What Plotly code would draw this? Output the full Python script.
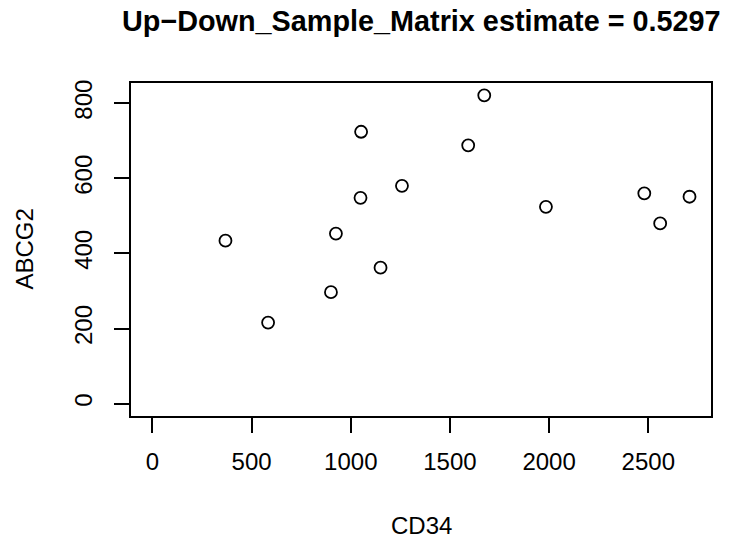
import plotly.graph_objects as go

# Data
cd34 = [368, 583, 900, 925, 1052, 1049, 1150, 1258, 1592, 1673, 1984, 2480, 2560, 2708]
abcg2 = [434, 216, 297, 453, 724, 548, 362, 580, 688, 821, 524, 560, 480, 551]
x_ticks = [0, 500, 1000, 1500, 2000, 2500]
y_ticks = [0, 200, 400, 600, 800]
title_text = "Up\u2212Down_Sample_Matrix estimate = 0.5297"
x_title = "CD34"
y_title = "ABCG2"

W, H = 734, 542
ML, MR, MT, MB = 131, 23, 83, 126
PW, PH = W - ML - MR, H - MT - MB

def r_range(lo, hi):
    d = (hi - lo) * 0.04
    return [lo - d, hi + d]

xr = r_range(0, max(cd34))
yr = r_range(0, max(abcg2))

FONT = "Liberation Sans, Arial, Helvetica, sans-serif"

fig = go.Figure()
fig.add_trace(go.Scatter(
    x=cd34, y=abcg2, mode="markers",
    marker=dict(symbol="circle-open", size=12, color="black", line=dict(width=1.8, color="black")),
    showlegend=False, hoverinfo="skip",
))

axis_common = dict(
    showgrid=False, zeroline=False, showline=True, linecolor="black", linewidth=1.5,
    mirror=True, ticks="outside", ticklen=15, tickwidth=1.5, tickcolor="black",
    tickfont=dict(family=FONT, size=24, color="black"),
)

fig.update_layout(
    width=W, height=H,
    margin=dict(l=ML, r=MR, t=MT, b=MB, pad=0),
    paper_bgcolor="white", plot_bgcolor="white",
    xaxis=dict(range=xr, tickvals=x_ticks, ticktext=[str(v) for v in x_ticks],
               ticklabelstandoff=8, **axis_common),
    yaxis=dict(range=yr, tickvals=y_ticks, ticktext=[str(v) for v in y_ticks],
               tickangle=-90, ticklabelstandoff=13, **axis_common),
    annotations=[
        dict(text="<b>" + title_text + "</b>", xref="paper", yref="paper",
             x=0.5, y=(H - MB - 21) / PH, xanchor="center", yanchor="middle",
             showarrow=False, font=dict(family=FONT, size=28.8, color="black")),
        dict(text=x_title, xref="paper", yref="paper",
             x=0.5, y=(H - MB - 525) / PH, xanchor="center", yanchor="middle",
             showarrow=False, font=dict(family=FONT, size=24, color="black")),
        dict(text=y_title, xref="paper", yref="paper", textangle=-90,
             x=(24 - ML) / PW, y=0.5, xanchor="center", yanchor="middle",
             showarrow=False, font=dict(family=FONT, size=24, color="black")),
    ],
)

fig.write_html("out.html")
